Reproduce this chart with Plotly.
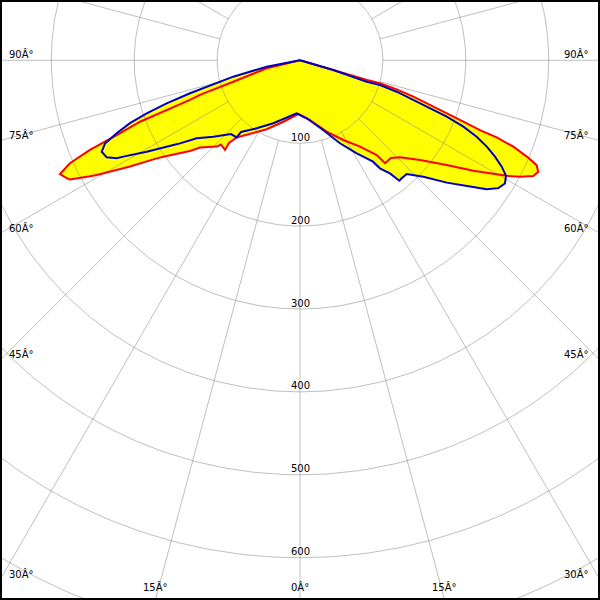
import numpy as np
import plotly.graph_objects as go

# ---------------- data ----------------
# gamma angle in degrees measured from nadir (0 = straight down), negative = left half
# intensity in cd/klm, listed in drawing order around each closed curve
red_angle = [-78, -76.5, -72.2, -71.7, -70.9, -70.2, -69.6, -69.0, -67.8, -66.9, -65.9,
             -64.65, -63.2, -62.6, -61.1, -60.6, -58.6, -58.0, -55.6, -54.8, -50.5, -48.9,
             -44.0, -43.2, -39.9, -40.65, -39.35, -34.2, -25.8, -15.2, -1.8, 9.5, 20.5,
             28.5, 34.8, 39.0, 39.6, 42.9, 45.9, 50.3, 54.5, 57.5, 59.5, 60.8, 62.1, 63.6,
             64.9, 66.1, 67.0, 67.95, 68.6, 68.8, 69.4, 70.1, 71.0, 72.2, 73.3, 74.0,
             73.6, 74.2, 75]
red_value = [0, 41.3, 84.5, 101.6, 127.7, 141.1, 171.6, 206.7, 238.8, 275.5, 304,
             320.4, 315.4, 312.4, 289.2, 281.6, 249.8, 241.9, 209.4, 201.8, 172, 160,
             144.6, 139.3, 141, 131.5, 120.4, 107.4, 92.4, 76.8, 64.8, 73, 91.9,
             109.4, 126.9, 147, 161, 161, 168, 188.2, 217.4, 247.9, 270.5, 285.7, 300.2, 314.1,
             317.3, 312.2, 297.2, 277.6, 254.8, 232.8, 210.5, 188.2, 165.8, 143.6, 121.8, 100.4,
             84.3, 41.7, 0]

blue_angle = [-80, -79.1, -76.2, -75.0, -73.5, -73.3, -72.1, -70.9, -69.7, -68.3, -66.9,
              -65.25, -63.35, -61.9, -61.4, -59.2, -56.2, -55.3, -53.0, -48.6, -43.1,
              -39.35, -39.45, -32.5, -23.0, -10.2, -3.6, 6.6, 18.3, 25.7, 31.4, 35.75,
              36.5, 38.5, 39.3, 39.5, 40.75, 43.2, 46.65, 50.2, 53.4, 55.35, 57.2, 59.0,
              60.7, 62.2, 63.7, 65.2, 66.6, 67.9, 69.0, 69.7, 70.7, 72.0, 72.8, 72.2,
              73.8, 75]
blue_value = [0, 40.9, 82.9, 99.9, 125.8, 138.5, 169, 195.7, 218.7, 238, 255.6,
              263.4, 260.9, 250.7, 242.8, 215.3, 183.8, 176, 156.1, 139.4, 121.8,
              120.4, 112, 97.2, 82.5, 68.3, 64, 70.4, 88.5, 111.1, 131.4, 150.7,
              162.1, 174.3, 184, 188.3, 187.9, 188.1, 204.6, 230.5, 255.5, 273.7, 284.7, 288.4,
              285, 275.1, 262.4, 248.2, 232.2, 212.7, 189.6, 167.2, 144.8, 122.6, 101, 84.5,
              41.8, 0]

ring_values = [100, 200, 300, 400, 500, 600, 700, 800]
ring_labels = ["100", "200", "300", "400", "500", "600"]
spoke_step = 15
side_label_angles = [90, 75, 60, 45, 30]
bottom_label_angles = [-15, 0, 15]

# ---------------- layout constants ----------------
W = H = 600
PX_PER_UNIT = 0.829
CENTER_Y_PX = 60.3
X_HALF = (W / 2) / PX_PER_UNIT
Y_TOP = CENTER_Y_PX / PX_PER_UNIT
Y_BOTTOM = -(H - CENTER_Y_PX) / PX_PER_UNIT

GRID = "rgba(128,128,128,0.5)"
YELLOW = "#FFFF00"
RED = "#FF0000"
BLUE = "#0000C0"
FONT = dict(family="DejaVu Sans", size=10, color="black")


def to_xy(angle, value):
    a = np.radians(np.asarray(angle, dtype=float))
    r = np.asarray(value, dtype=float)
    return r * np.sin(a), -r * np.cos(a)


fig = go.Figure()

# yellow fill (union of both planes)
for ang, val in ((red_angle, red_value), (blue_angle, blue_value)):
    x, y = to_xy(ang, val)
    fig.add_trace(go.Scatter(x=x, y=y, mode="lines", fill="toself", fillcolor=YELLOW,
                             line=dict(width=0, color=YELLOW), hoverinfo="skip"))

# grid circles
th = np.arange(0, 361, 1.0)
gx, gy = [], []
for rv in ring_values:
    cx, cy = to_xy(th, np.full_like(th, rv))
    gx += list(cx) + [None]
    gy += list(cy) + [None]
fig.add_trace(go.Scatter(x=gx, y=gy, mode="lines", line=dict(color=GRID, width=1),
                         hoverinfo="skip"))

# grid spokes (start at the first ring)
sx, sy = [], []
for a in range(0, 360, spoke_step):
    px_, py_ = to_xy([a, a], [ring_values[0], ring_values[-1] + 200])
    sx += list(px_) + [None]
    sy += list(py_) + [None]
fig.add_trace(go.Scatter(x=sx, y=sy, mode="lines", line=dict(color=GRID, width=1),
                         hoverinfo="skip"))

# curves
for ang, val, col in ((red_angle, red_value, RED), (blue_angle, blue_value, BLUE)):
    x, y = to_xy(ang, val)
    fig.add_trace(go.Scatter(x=x, y=y, mode="lines", line=dict(color=col, width=2),
                             hoverinfo="skip"))

annotations = []
for lab in ring_labels:
    annotations.append(dict(x=0, y=-float(lab), xref="x", yref="y", text=lab,
                            showarrow=False, xanchor="center", yanchor="middle",
                            yshift=6, font=FONT))
for a in side_label_angles:
    ye = -X_HALF / np.tan(np.radians(a)) if a != 90 else 0.0
    annotations.append(dict(x=-X_HALF, y=ye, xref="x", yref="y", text=f"{a}Â°",
                            showarrow=False, xanchor="left", yanchor="middle",
                            xshift=7, yshift=6, font=FONT))
    annotations.append(dict(x=X_HALF, y=ye, xref="x", yref="y", text=f"{a}Â°",
                            showarrow=False, xanchor="right", yanchor="middle",
                            xshift=-9, yshift=6, font=FONT))
for a in bottom_label_angles:
    xe = -Y_BOTTOM * np.tan(np.radians(a))
    annotations.append(dict(x=xe, y=Y_BOTTOM, xref="x", yref="y", text=f"{abs(a)}Â°",
                            showarrow=False, xanchor="center", yanchor="bottom",
                            yshift=5, font=FONT))

fig.update_layout(
    width=W, height=H, margin=dict(l=0, r=0, t=0, b=0),
    paper_bgcolor="white", plot_bgcolor="white", showlegend=False,
    xaxis=dict(range=[-X_HALF, X_HALF], visible=False, showgrid=False, zeroline=False,
               fixedrange=True),
    yaxis=dict(range=[Y_BOTTOM, Y_TOP], visible=False, showgrid=False, zeroline=False,
               fixedrange=True),
    annotations=annotations,
    shapes=[dict(type="rect", xref="paper", yref="paper", x0=0, y0=0, x1=1, y1=1,
                 line=dict(color="black", width=4), layer="above")],
)

fig.write_html("out.html", config={"displayModeBar": False},
               post_script="document.body.style.margin='0';document.body.style.overflow='hidden';")
